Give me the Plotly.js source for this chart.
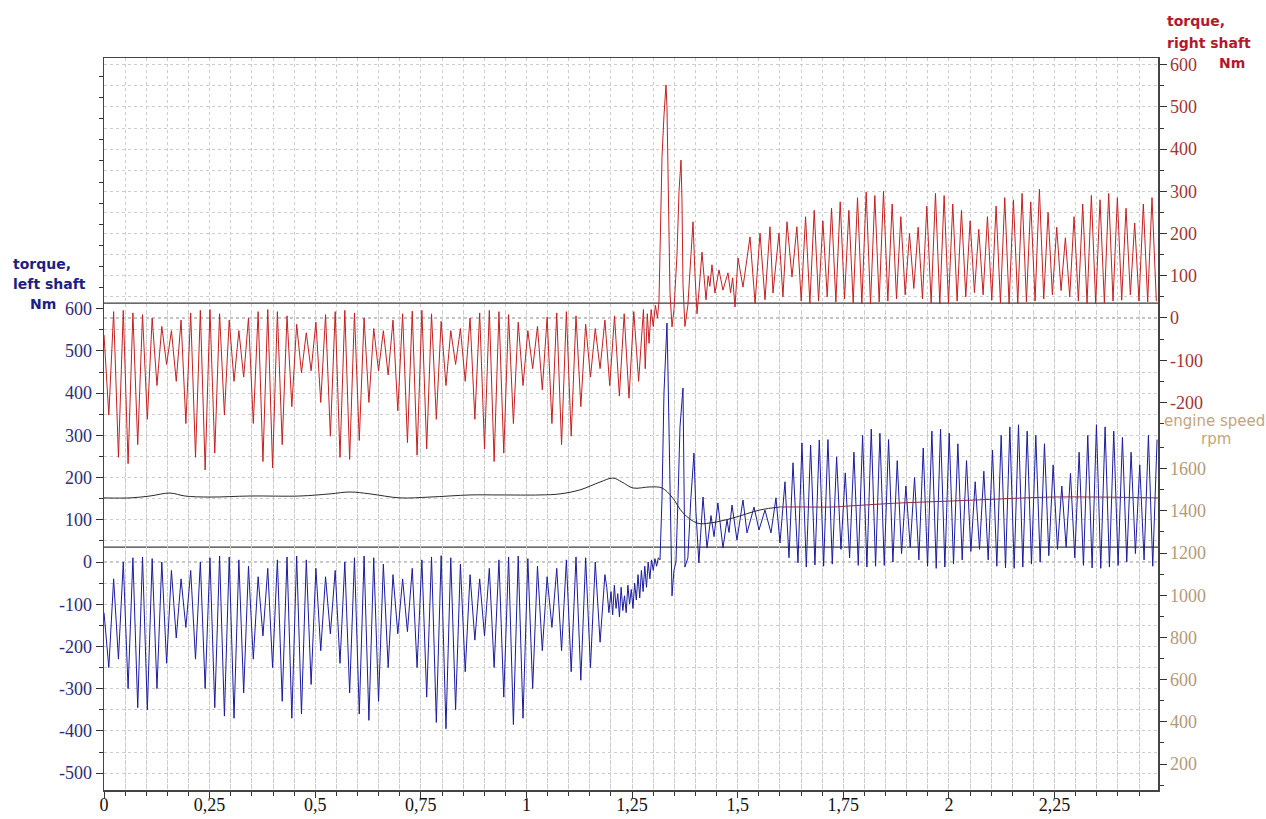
<!DOCTYPE html>
<html><head><meta charset="utf-8">
<script src="https://cdn.plot.ly/plotly-3.0.1.min.js"></script>
<style>html,body{margin:0;padding:0;background:#fff;}#chart{width:1266px;height:819px;}</style>
</head><body><div id="chart"></div>
<script>
// ---------- tick labels ----------
const xTickVals = [0,0.25,0.5,0.75,1,1.25,1.5,1.75,2,2.25];
const xTickText = ['0','0,25','0,5','0,75','1','1,25','1,5','1,75','2','2,25'];
const leftTickVals = [-500,-400,-300,-200,-100,0,100,200,300,400,500,600];
const leftTickText = ['-500','-400','-300','-200','-100','0','100','200','300','400','500','600'];
const leftMinorVals = [-450,-350,-250,-150,-50,50,150,250,350,450,550,650,700,750,800,850,900,950,1000,1050,1100,1150];
const rightTickVals = [-200,-100,0,100,200,300,400,500,600];
const rightTickText = ['-200','-100','0','100','200','300','400','500','600'];
const rightMinorVals = [-250,-150,-50,50,150,250,350,450,550];
const rpmTickVals = [200,400,600,800,1000,1200,1400,1600];
const rpmTickText = ['200','400','600','800','1000','1200','1400','1600'];
const rpmMinorVals = [100,300,500,700,900,1100,1300,1500,1700];

// ---------- torque, right shaft (Nm) ----------
const redPreStart = 0, redPreStep = 0.0114;
const redPreValues = [-40,-230,15,-330,18,-345,12,-300,8,-240,
 0,-160,-20,-110,-30,-150,-5,-250,12,-330,
 18,-360,20,-320,10,-230,-5,-150,-30,-140,
 0,-250,15,-340,20,-355,15,-300,5,-210,
 -15,-130,-35,-125,-10,-200,8,-280,15,-330,
 18,-335,12,-290,0,-200,-25,-125,-30,-135,
 -5,-220,10,-295,16,-325,18,-310,10,-240,
 -8,-160,-30,-110,-25,-150,0,-240,12,-310,
 18,-340,15,-320,8,-250,-10,-160,-30,-120,
 -20,-170,2,-250,12,-300,15,-280,5,-210,
 -15,-140,-25,-120,-5,-160,5,-185,10,-190,
 15,-150,20];
const redMidTime = [1.281,1.286,1.29,1.295,1.3,1.305,1.31,1.3136,1.3183,1.3207,1.3254,1.3302,1.3325,1.3373,1.3396,1.3444,1.3491,1.3562,1.361,1.3657,1.368,1.3704,1.375,1.382,1.389,1.3941,1.399,1.4036,1.408,1.4154,1.4249,1.43,1.434,1.439,1.446,1.4556,1.465,1.4769,1.483,1.488,1.4935,1.5006,1.5124,1.529,1.541,1.5527,1.5645,1.5763,1.5834,1.5976,1.607,1.6166,1.6284,1.64];
const redMidValues = [-120,10,-60,20,-20,30,0,40,250,380,480,552,500,250,60,-21,20,150,300,374,280,80,-20,30,160,228,100,10,60,156,43,100,75,126,59,114,66,107,60,95,26,142,73,192,35,201,43,216,59,201,50,228,97,216];
const redPostStart = 1.65025, redPostStep = 0.01025;
const redPostValues = [40,240,35,255,40,230,50,260,38,275,
 45,255,36,285,34,298,33,290,38,300,
 40,270,45,240,55,200,70,215,45,265,
 36,295,33,290,35,270,40,255,50,230,
 60,210,55,240,42,265,36,285,33,280,
 35,295,38,275,40,305,45,250,55,215,
 65,190,50,240,40,270,35,290,34,280,
 36,295,40,285,42,260,55,225,40,270,
 38,285,40];

// ---------- torque, left shaft (Nm) ----------
const bluePreStart = 0, bluePreStep = 0.0114;
const bluePreValues = [-120,-250,-40,-230,0,-300,10,-345,12,-350,
 8,-300,0,-240,-20,-180,-40,-155,-20,-230,
 0,-300,10,-345,14,-365,12,-370,5,-310,
 -10,-230,-35,-175,-15,-250,5,-330,12,-370,
 14,-360,5,-290,-15,-210,-35,-170,-20,-240,
 0,-310,10,-360,14,-375,10,-330,-5,-250,
 -30,-170,-40,-165,-15,-250,5,-320,12,-380,
 15,-395,10,-350,-5,-260,-30,-185,-40,-175,
 -15,-250,5,-320,12,-385,14,-370,8,-300,
 -10,-210,-35,-155,-15,-210,5,-260,12,-280,
 10,-250,0,-190,-30];
const blueMidTime = [1.19,1.195,1.2,1.204,1.208,1.212,1.216,1.22,1.224,1.228,1.232,1.236,1.24,1.244,1.248,1.252,1.256,1.26,1.264,1.268,1.272,1.276,1.28,1.284,1.288,1.292,1.296,1.3,1.304,1.308,1.312,1.316,1.3207,1.3254,1.33,1.3325,1.3349,1.3396,1.3444,1.349,1.3538,1.3586,1.3633,1.3704,1.3728,1.375,1.382,1.389,1.3964,1.401,1.408,1.4178,1.4272,1.4367,1.4438,1.453,1.465,1.4746,1.4793,1.4864,1.4982,1.5124,1.5219,1.5385,1.5503,1.5645,1.5787,1.5905,1.6,1.6118,1.6213,1.6308,1.6426,1.652];
const blueMidValues = [-60,-120,-70,-125,-55,-110,-75,-130,-60,-115,-80,-120,-55,-100,-65,-110,-50,-90,-30,-85,-20,-70,-10,-60,0,-40,5,-20,8,-10,10,5,150,400,540,566,450,150,-80,-20,0,150,320,412,250,-12,10,150,258,120,-2,154,33,110,60,140,33,100,70,135,52,147,69,130,76,123,69,152,45,190,10,235,-2,282];
const bluePostStart = 1.66225, bluePostStep = 0.01025;
const bluePostValues = [-12,277,-7,289,-10,290,-5,249,30,211,
 10,260,-8,300,-12,315,-10,305,-8,290,
 0,240,20,180,35,200,5,270,-10,310,
 -15,315,-12,305,-5,280,5,240,25,190,
 30,215,5,265,-10,300,-14,320,-15,325,
 -12,310,-5,300,0,280,15,230,30,180,
 35,210,10,260,-8,300,-14,325,-15,320,
 -12,310,-8,295,0,260,20,230,5,300,
 -10,290];

// ---------- engine speed (rpm) ----------
const rpmDarkTime = [0,0.0615,0.1089,0.1562,0.1917,0.2509,0.3456,0.4639,0.5349,0.5822,0.6296,0.7006,0.7716,0.8663,0.9373,1.032,1.0793,1.1266,1.174,1.2047,1.226,1.2521,1.2923,1.3207,1.3444,1.3704,1.4036,1.4343,1.4888,1.5527,1.6];
const rpmDarkValues = [1461,1461,1470,1484,1470,1465,1470,1470,1480,1489,1480,1461,1465,1475,1475,1475,1480,1499,1536,1555,1536,1508,1513,1508,1465,1390,1342,1342,1366,1404,1418];
const rpmLateTime = [1.6,1.6473,1.7254,1.7657,1.884,2.0024,2.1207,2.2391,2.3574,2.4947];
const rpmLateValues = [1418,1418,1418,1423,1437,1446,1456,1465,1465,1461];

// reference levels (Nm)
const refTorque = 35;

// ---------- build ----------
function sampleTimes(start, step, values){ return values.map((v,i)=> +(start + i*step).toFixed(5)); }
const redX = sampleTimes(redPreStart, redPreStep, redPreValues).concat(redMidTime, sampleTimes(redPostStart, redPostStep, redPostValues));
const redY = redPreValues.concat(redMidValues, redPostValues);
const blueX = sampleTimes(bluePreStart, bluePreStep, bluePreValues).concat(blueMidTime, sampleTimes(bluePostStart, bluePostStep, bluePostValues));
const blueY = bluePreValues.concat(blueMidValues, bluePostValues);

// plot geometry (pixels of the page)
const PL=104, PR=1158, PT=58, PB=790;
const px = x => (x-PL)/(PR-PL);
const py = y => (PB-y)/(PB-PT);

const leftRange = [-540, 1193.7];
const rightRange = [-1118, 615.8];
const rpmRange = [77.3, 3544.9];
const split = py(312);

const serif = 'Liberation Serif, Times New Roman, serif';
const gridStyle = {showgrid:true, gridcolor:'#cdcdcd', gridwidth:1, griddash:'dot'};

const traces = [
  {x:[], y:[], xaxis:'x', yaxis:'y', mode:'lines', hoverinfo:'skip', showlegend:false},
  {x:[], y:[], xaxis:'x', yaxis:'y2', mode:'lines', hoverinfo:'skip', showlegend:false},
  {x:redX, y:redY, xaxis:'x', yaxis:'y4', mode:'lines', line:{color:'#c61f1f', width:1}, name:'torque, right shaft'},
  {x:blueX, y:blueY, xaxis:'x', yaxis:'y3', mode:'lines', line:{color:'#1b1ba0', width:1}, name:'torque, left shaft'},
  {x:rpmDarkTime, y:rpmDarkValues, xaxis:'x', yaxis:'y5', mode:'lines', line:{color:'#2a2a2a', width:1, shape:'spline'}, name:'engine speed'},
  {x:rpmLateTime, y:rpmLateValues, xaxis:'x', yaxis:'y5', mode:'lines', line:{color:'#8a2c44', width:1, shape:'spline'}, name:'engine speed'}
];

const ann = (text, x, y, xanchor, color, size, bold) => ({
  text: bold ? '<b>'+text+'</b>' : text, xref:'paper', yref:'paper', x:x, y:y,
  xanchor:xanchor, yanchor:'middle', showarrow:false,
  font:{family:'DejaVu Sans, sans-serif', size:size, color:color}
});

const layout = {
  width:1266, height:819,
  margin:{l:PL, r:1266-PR, t:PT, b:819-PB, pad:0},
  paper_bgcolor:'#ffffff', plot_bgcolor:'rgba(0,0,0,0)',
  showlegend:false,
  xaxis:Object.assign({
    range:[0, 2.4947], anchor:'y3', showline:true, linecolor:'#444', linewidth:1.5, mirror:true,
    ticks:'outside', ticklen:6, tickcolor:'#333', tickwidth:1, ticklabelstandoff:-8,
    tickmode:'array', tickvals:xTickVals, ticktext:xTickText,
    tickfont:{family:serif, size:18, color:'#111'}, zeroline:false,
    minor:Object.assign({dtick:0.05, tick0:0, ticklen:4, tickcolor:'#333', ticks:'outside'}, gridStyle)
  }, gridStyle),
  yaxis:Object.assign({domain:[split,1], anchor:'x', range:[rightRange[0] + split*(rightRange[1]-rightRange[0]), rightRange[1]],
    tickmode:'linear', tick0:0, dtick:50, ticks:'', showticklabels:false, showline:false, zeroline:false}, gridStyle),
  yaxis2:Object.assign({domain:[0,split], anchor:'x', range:[leftRange[0], leftRange[0] + split*(leftRange[1]-leftRange[0])],
    tickmode:'linear', tick0:0, dtick:50, ticks:'', showticklabels:false, showline:false, zeroline:false}, gridStyle),
  yaxis3:{domain:[0,1], anchor:'x', side:'left', range:leftRange, showgrid:false, zeroline:false,
    showline:true, linecolor:'#444', linewidth:1.5,
    ticks:'outside', ticklen:7, tickcolor:'#333',
    tickmode:'array', tickvals:leftTickVals, ticktext:leftTickText,
    tickfont:{family:serif, size:18, color:'#2e2e7c'},
    minor:{tickmode:'array', tickvals:leftMinorVals, ticklen:4, tickcolor:'#333', ticks:'outside', showgrid:false}},
  yaxis4:{overlaying:'y3', anchor:'x', side:'right', range:rightRange, showgrid:false, zeroline:false,
    showline:true, linecolor:'#444', linewidth:1.5,
    ticks:'outside', ticklen:7, tickcolor:'#333',
    tickmode:'array', tickvals:rightTickVals, ticktext:rightTickText,
    tickfont:{family:serif, size:18, color:'#9e3636'},
    minor:{tickmode:'array', tickvals:rightMinorVals, ticklen:4, tickcolor:'#333', ticks:'outside', showgrid:false}},
  yaxis5:{overlaying:'y3', anchor:'x', side:'right', range:rpmRange, showgrid:false, zeroline:false,
    showline:true, linecolor:'#444', linewidth:1.5,
    ticks:'outside', ticklen:7, tickcolor:'#333',
    tickmode:'array', tickvals:rpmTickVals, ticktext:rpmTickText,
    tickfont:{family:serif, size:18, color:'#b39a7a'},
    minor:{tickmode:'array', tickvals:rpmMinorVals, ticklen:4, tickcolor:'#333', ticks:'outside', showgrid:false}},
  shapes:[
    {type:'line', xref:'paper', x0:0, x1:1, yref:'y4', y0:0, y1:0, line:{color:'#8a8a8a', width:1, dash:'dot'}, layer:'below'},
    {type:'line', xref:'paper', x0:0, x1:1, yref:'y3', y0:0, y1:0, line:{color:'#8a8a8a', width:1, dash:'dot'}, layer:'below'},
    {type:'line', xref:'paper', x0:0, x1:1, yref:'y4', y0:refTorque, y1:refTorque, line:{color:'#3a3a3a', width:1.3}, layer:'below'},
    {type:'line', xref:'paper', x0:0, x1:1, yref:'y3', y0:refTorque, y1:refTorque, line:{color:'#3a3a3a', width:1.3}, layer:'below'}
  ],
  annotations:[
    ann('torque,', px(1165), py(21), 'left', '#b3182d', 14, true),
    ann('right shaft', px(1165), py(43), 'left', '#b3182d', 14, true),
    ann('Nm', px(1217), py(63), 'left', '#b3182d', 14, true),
    ann('torque,', px(11), py(264), 'left', '#1e1e80', 14, true),
    ann('left shaft', px(11), py(284), 'left', '#1e1e80', 14, true),
    ann('Nm', px(28), py(304), 'left', '#1e1e80', 14, true),
    ann('engine speed', px(1214), py(421), 'center', '#c4a57c', 15, false),
    ann('rpm', px(1216), py(439), 'center', '#c4a57c', 15, false)
  ]
};

Plotly.newPlot('chart', traces, layout, {displayModeBar:false, staticPlot:true});
</script>
</body></html>
